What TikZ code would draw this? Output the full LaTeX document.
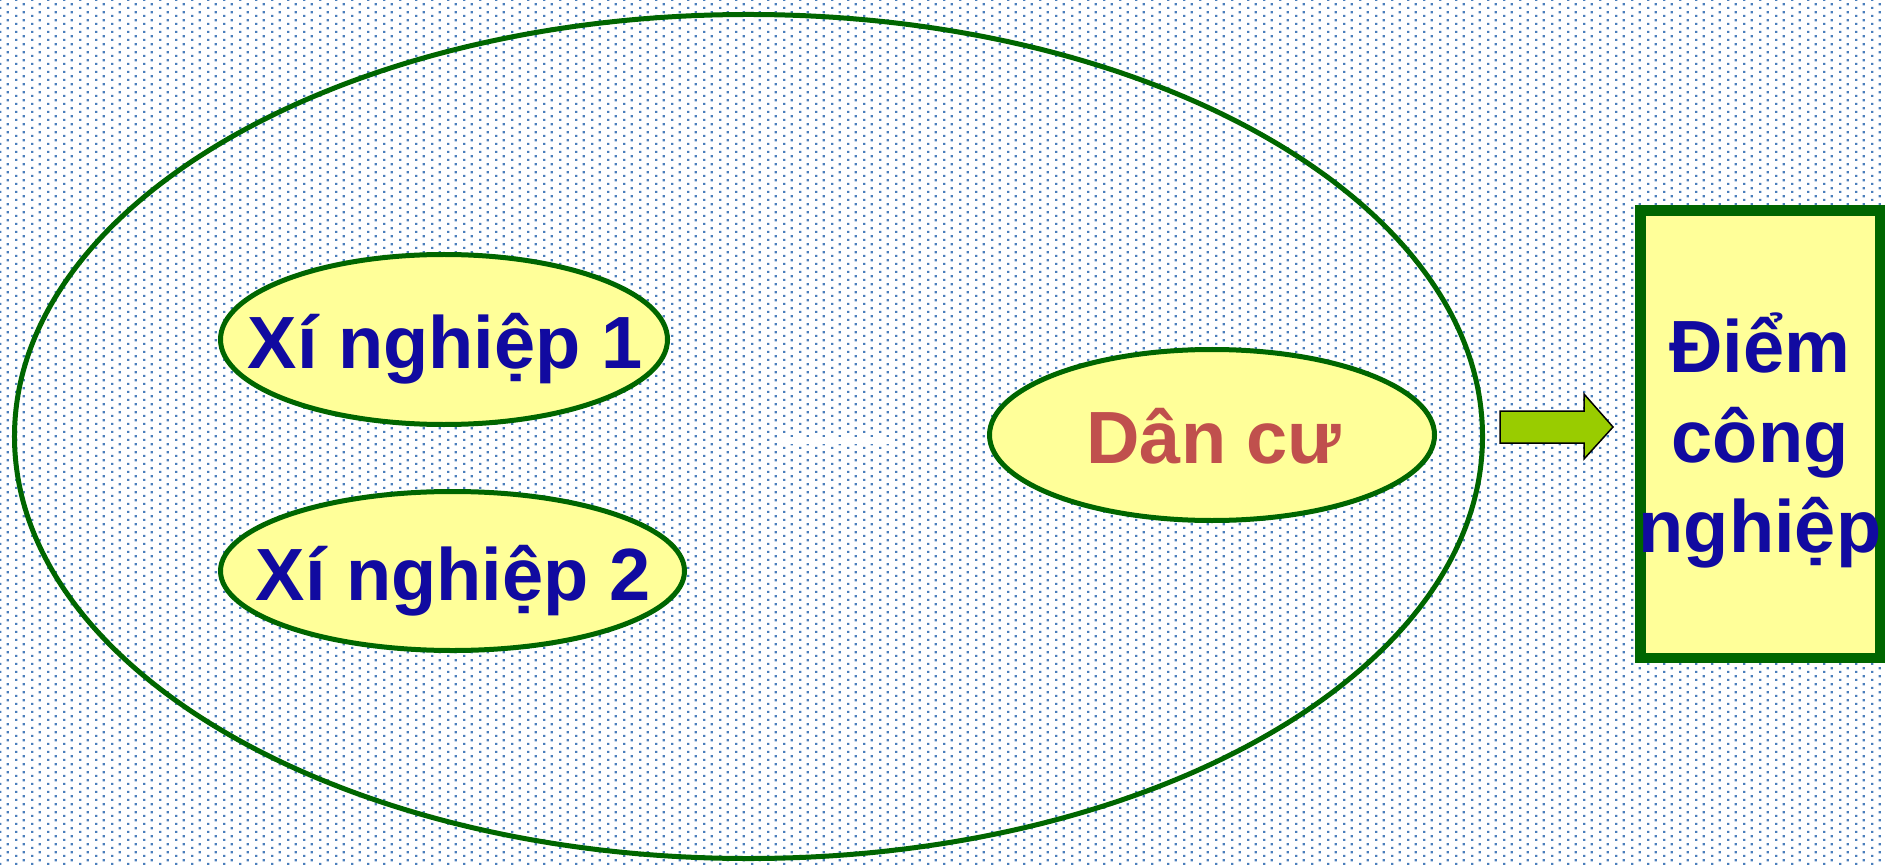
\documentclass[tikz,border=0pt]{standalone}
\usepackage{fontspec}
\setmainfont{Liberation Sans}
\usetikzlibrary{shapes.geometric,patterns.meta}
\definecolor{dotblue}{RGB}{74,126,187}
\definecolor{bordergreen}{RGB}{0,102,0}
\definecolor{paleyellow}{RGB}{255,255,153}
\definecolor{textblue}{RGB}{17,10,160}
\definecolor{textred}{RGB}{192,80,77}
\definecolor{arrowgreen}{RGB}{153,204,0}
\tikzdeclarepattern{
  name=bgdots,
  type=uncolored,
  bottom left={(0pt,0pt)},
  top right={(6.4pt,3.2pt)},
  tile size={(6.4pt,3.2pt)},
  code={
    \fill (0pt,0pt) rectangle (1pt,1pt);
    \fill (3.2pt,1.6pt) rectangle (4.2pt,2.6pt);
  }
}
\begin{document}
\begin{tikzpicture}[x=0.4pt,y=-0.4pt,
  oval/.style={ellipse, draw=bordergreen, line width=2pt, fill=paleyellow, inner sep=0pt, outer sep=0pt},
  bigoval/.style={ellipse, draw=bordergreen, line width=2pt, inner sep=0pt, outer sep=0pt},
  boxstyle/.style={rectangle, draw=bordergreen, line width=4.2pt, fill=paleyellow, inner sep=0pt, outer sep=0pt},
  lbl/.style={font=\fontsize{29.6pt}{36pt}\selectfont\bfseries, inner sep=0pt, anchor=base},
  blocky/.style={fill=arrowgreen, draw=black, line width=0.6pt, line join=miter}
]
\useasboundingbox (0,0) rectangle (1885,865);
\fill[white] (0,0) rectangle (1885,865);
\fill[pattern=bgdots, pattern color=dotblue] (0,0) rectangle (1885,865);

% outer region
\node[bigoval, minimum width=587.2pt, minimum height=337.6pt] (region) at (748.5,436.5) {};

% faint white stroke in the middle
\coordinate (w1) at (781,440);
\coordinate (w2) at (893,440);
\draw[white, line width=2.8pt] (w1) -- (w2);

% inner ovals
\node[oval, minimum width=178.8pt, minimum height=68pt] (xn1) at (444,339.5) {};
\node[oval, minimum width=185.6pt, minimum height=63.6pt] (xn2) at (452.5,571) {};
\node[oval, minimum width=178pt, minimum height=68.4pt] (dc) at (1212,435) {};

\node[lbl, text=textblue] (t1) at (445,368) {Xí nghiệp 1};
\node[lbl, text=textblue] (t2) at (453,600) {Xí nghiệp 2};
\node[lbl, text=textred] (t3) at (1214,463) {Dân cư};

% block arrow
\coordinate (a0) at (1500,427);
\draw[blocky] (1500,411) -- (1584,411) -- (1584,394) -- (1613,427) -- (1584,459) -- (1584,443) -- (1500,443) -- cycle;

% right box
\node[boxstyle, minimum width=95.8pt, minimum height=179pt] (box) at (1760.25,434.25) {};
\node[lbl, text=textblue, align=center] (boxtext) at (1760,552) {Điểm\\công\\nghiệp};
\end{tikzpicture}
\end{document}
